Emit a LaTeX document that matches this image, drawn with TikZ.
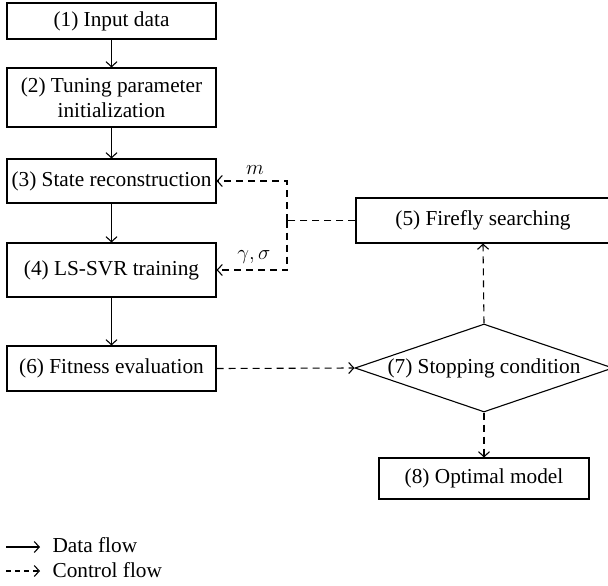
\documentclass[tikz,border=0pt]{standalone}
\usepackage{fontspec}
\setmainfont{Liberation Serif}
\usetikzlibrary{arrows.meta,shapes.geometric}
\begin{document}
\begin{tikzpicture}[x=1pt,y=-1pt,
  font=\fontsize{21.3}{25}\selectfont,
  every path/.style={line width=1.1pt},
  boxnode/.style={draw, line width=1.1pt, inner sep=0pt, minimum width=209pt, align=center},
  tip/.style={-{Straight Barb[length=5pt,width=11pt,line width=1.1pt]}},
  dataflow/.style={tip},
  ctrlflow/.style={tip, dash pattern=on 7pt off 5pt},
  ctrlline/.style={dash pattern=on 7pt off 5pt},
  lbl/.style={inner sep=1pt}]
\useasboundingbox (0,0) rectangle (608,586);
\node[boxnode, minimum height=36pt] (b1) at (111.5,21) {(1) Input data};
\node[boxnode, minimum height=59pt] (b2) at (111.5,97.5) {(2) Tuning parameter\\initialization};
\node[boxnode, minimum height=44pt] (b3) at (111.5,181) {(3) State reconstruction};
\node[boxnode, minimum height=54pt] (b4) at (111.5,270) {(4) LS-SVR training};
\node[boxnode, minimum height=45pt] (b6) at (111.5,368.5) {(6) Fitness evaluation};
\node[boxnode, minimum height=45pt, minimum width=254pt] (b5) at (483,220.5) {(5) Firefly searching};
\node[draw, diamond, line width=1.1pt, inner sep=0pt, aspect=2.93, minimum width=258pt, minimum height=88pt] (b7) at (484,368) {(7) Stopping condition};
\node[boxnode, minimum height=41pt, minimum width=210pt] (b8) at (484,478.5) {(8) Optimal model};
\draw[dataflow] (b1) -- (b2);
\draw[dataflow] (b2) -- (b3);
\draw[dataflow] (b3) -- (b4);
\draw[dataflow] (b4) -- (b6);
\coordinate (jn) at (287,220.5);
\coordinate (jt) at (287,181);
\coordinate (jb) at (287,270);
\draw[ctrlline] (b5.west) -- (jn);
\draw[ctrlflow] (jn) -- (jt) -- (b3.east);
\draw[ctrlflow] (jn) -- (jb) -- (b4.east);
\node[lbl] (lm) at (255,170) {$m$};
\node[lbl] (lgs) at (254,257) {$\gamma,\sigma$};
\draw[ctrlflow] (b6.east) -- (b7.west);
\draw[ctrlflow] (b7.north) -- (b5.south);
\draw[ctrlflow] (b7.south) -- (b8.north);
\coordinate (l1a) at (6,547);
\coordinate (l1b) at (40,547);
\coordinate (l2a) at (6,571);
\coordinate (l2b) at (40,571);
\draw[dataflow] (l1a) -- (l1b);
\draw[ctrlflow, dash pattern=on 5pt off 4pt] (l2a) -- (l2b);
\node[anchor=west, inner sep=0pt] (t1) at (52,545) {Data flow};
\node[anchor=west, inner sep=0pt] (t2) at (52,570) {Control flow};
\end{tikzpicture}
\end{document}
